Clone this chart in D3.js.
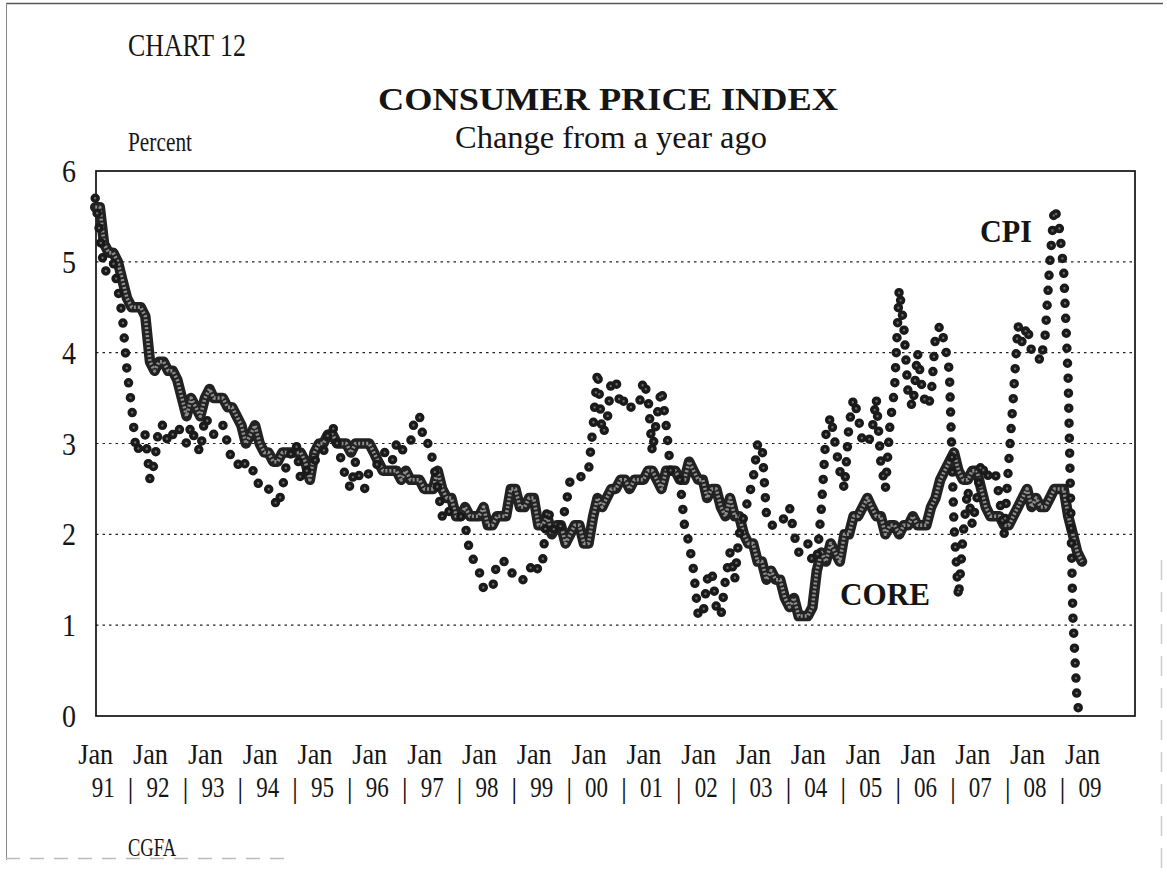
<!DOCTYPE html>
<html><head><meta charset="utf-8">
<script src="https://cdn.jsdelivr.net/npm/d3@7"></script>
<style>
html,body{margin:0;padding:0;background:#fff;}
svg{display:block;}
text{font-family:"Liberation Serif","DejaVu Serif",serif;fill:#151515;}
</style></head><body>
<svg id="c" width="1167" height="874"></svg>
<script>
// ---- data (percent change from a year ago, monthly Jan 1991 - Jan 2009) ----
const startYear = 1991;
const cpi = [
  5.7,5.3,4.9,4.9,5.0,4.7,4.4,3.8,3.4,2.9,3.0,3.1,   // 1991
  2.6,2.8,3.2,3.2,3.0,3.1,3.2,3.1,3.0,3.2,3.0,2.9,   // 1992
  3.3,3.2,3.1,3.2,3.2,3.0,2.8,2.8,2.7,2.8,2.7,2.7,   // 1993
  2.5,2.5,2.5,2.4,2.3,2.5,2.8,2.9,3.0,2.6,2.7,2.7,   // 1994
  2.8,2.9,2.9,3.1,3.2,3.0,2.8,2.6,2.5,2.8,2.6,2.5,   // 1995
  2.7,2.7,2.8,2.9,2.9,2.8,3.0,2.9,3.0,3.0,3.3,3.3,   // 1996
  3.0,3.0,2.8,2.5,2.2,2.3,2.2,2.2,2.2,2.1,1.8,1.7,   // 1997
  1.6,1.4,1.4,1.4,1.7,1.7,1.7,1.6,1.5,1.5,1.5,1.6,   // 1998
  1.7,1.6,1.7,2.3,2.1,2.0,2.1,2.3,2.6,2.6,2.6,2.7,   // 1999
  2.7,3.2,3.8,3.1,3.2,3.7,3.7,3.4,3.5,3.4,3.4,3.4,   // 2000
  3.7,3.5,2.9,3.3,3.6,3.2,2.7,2.7,2.6,2.1,1.9,1.6,   // 2001
  1.1,1.1,1.5,1.6,1.2,1.1,1.5,1.8,1.5,2.0,2.2,2.4,   // 2002
  2.6,3.0,3.0,2.2,2.1,2.1,2.1,2.2,2.3,2.0,1.8,1.9,   // 2003
  1.9,1.7,1.7,2.3,3.1,3.3,3.0,2.7,2.5,3.2,3.5,3.3,   // 2004
  3.0,3.0,3.1,3.5,2.8,2.5,3.2,3.6,4.7,4.3,3.5,3.4,   // 2005
  4.0,3.6,3.4,3.5,4.2,4.3,4.1,3.8,2.1,1.3,2.0,2.5,   // 2006
  2.1,2.4,2.8,2.6,2.7,2.7,2.4,2.0,2.8,3.5,4.3,4.1,   // 2007
  4.3,4.0,4.0,3.9,4.2,5.0,5.6,5.4,4.9,3.7,1.1,0.1,   // 2008
  0.05                                               // Jan 2009
];
const core = [
  5.6,5.6,5.2,5.1,5.1,5.0,4.8,4.6,4.5,4.5,4.5,4.4,   // 1991
  3.9,3.8,3.9,3.9,3.8,3.8,3.7,3.5,3.3,3.5,3.4,3.3,   // 1992
  3.5,3.6,3.5,3.5,3.5,3.4,3.4,3.3,3.2,3.0,3.1,3.2,   // 1993
  3.0,2.9,2.9,2.8,2.8,2.9,2.9,2.9,2.9,2.9,2.8,2.6,   // 1994
  2.9,3.0,3.0,3.1,3.1,3.0,3.0,3.0,2.9,3.0,3.0,3.0,   // 1995
  3.0,2.9,2.8,2.7,2.7,2.7,2.7,2.6,2.7,2.6,2.6,2.6,   // 1996
  2.5,2.5,2.5,2.7,2.5,2.4,2.4,2.2,2.2,2.3,2.2,2.2,   // 1997
  2.2,2.3,2.1,2.1,2.2,2.2,2.2,2.5,2.5,2.3,2.3,2.4,   // 1998
  2.4,2.1,2.1,2.2,2.0,2.1,2.1,1.9,2.0,2.1,2.1,1.9,   // 1999
  1.9,2.2,2.4,2.3,2.4,2.5,2.5,2.6,2.6,2.5,2.6,2.6,   // 2000
  2.6,2.7,2.7,2.6,2.5,2.7,2.7,2.7,2.6,2.6,2.8,2.7,   // 2001
  2.6,2.6,2.4,2.5,2.5,2.3,2.2,2.4,2.2,2.2,2.0,1.9,   // 2002
  1.9,1.7,1.7,1.5,1.6,1.5,1.5,1.3,1.2,1.3,1.1,1.1,   // 2003
  1.1,1.2,1.6,1.8,1.7,1.9,1.8,1.7,2.0,2.0,2.2,2.2,   // 2004
  2.3,2.4,2.3,2.2,2.2,2.0,2.1,2.1,2.0,2.1,2.1,2.2,   // 2005
  2.1,2.1,2.1,2.3,2.4,2.6,2.7,2.8,2.9,2.7,2.6,2.6,   // 2006
  2.7,2.7,2.5,2.3,2.2,2.2,2.2,2.1,2.1,2.2,2.3,2.4,   // 2007
  2.5,2.3,2.4,2.3,2.3,2.4,2.5,2.5,2.5,2.2,2.0,1.8,   // 2008
  1.7                                                // Jan 2009
];
const yTicks = [0,1,2,3,4,5,6];
const gridValues = [1,2,3,4,5];
const yearLabels = ["91","92","93","94","95","96","97","98","99","00","01","02","03","04","05","06","07","08","09"];

// ---- layout ----
const svg = d3.select("#c");
const L = 96, R = 1135, T = 171, B = 716;
const x = d3.scaleTime()
  .domain([new Date(1991,0,1), new Date(2009,11,20)])
  .range([95.2, R]);
const y = d3.scaleLinear().domain([0,6]).range([B, T]);
const dateOf = i => new Date(startYear, i, 1);

function label(sel, txt, px, py, size, opts={}) {
  const t = sel.append("text").attr("x",px).attr("y",py).attr("font-size",size).text(txt);
  if (opts.anchor) t.attr("text-anchor",opts.anchor);
  if (opts.bold) t.attr("font-weight","bold");
  if (opts.width) t.attr("textLength",opts.width).attr("lengthAdjust","spacingAndGlyphs");
  return t;
}

// outer page border (scan frame)
svg.append("line").attr("x1",6).attr("x2",1163).attr("y1",3.5).attr("y2",3.5)
  .attr("stroke","#555").attr("stroke-width",1.5);
svg.append("line").attr("x1",6.5).attr("x2",6.5).attr("y1",3).attr("y2",860)
  .attr("stroke","#888").attr("stroke-width",1);
svg.append("line").attr("x1",6).attr("x2",290).attr("y1",858.5).attr("y2",858.5)
  .attr("stroke","#bbb").attr("stroke-width",1.5).attr("stroke-dasharray","14,10");
svg.append("line").attr("x1",1161.5).attr("x2",1161.5).attr("y1",560).attr("y2",874)
  .attr("stroke","#ccc").attr("stroke-width",1.5).attr("stroke-dasharray","20,12");

// gridlines
svg.append("g").selectAll("line").data(gridValues).join("line")
  .attr("x1",L).attr("x2",R)
  .attr("y1",d=>y(d)).attr("y2",d=>y(d))
  .attr("stroke","#222").attr("stroke-width",1.2)
  .attr("stroke-dasharray","2.5,4");

// frame
svg.append("rect").attr("x",L).attr("y",T).attr("width",R-L).attr("height",B-T)
  .attr("fill","none").attr("stroke","#111").attr("stroke-width",1.7);

// y tick labels
svg.append("g").selectAll("text").data(yTicks).join("text")
  .attr("x",76).attr("y",d=>y(d)+11)
  .attr("text-anchor","end").attr("font-size",31)
  .attr("textLength",14).attr("lengthAdjust","spacingAndGlyphs")
  .text(d=>d);

// x labels
const janDates = yearLabels.map((s,i)=>new Date(startYear+i,0,1));
svg.append("g").selectAll("text").data(janDates).join("text")
  .attr("x",d=>x(d)-17).attr("y",764)
  .attr("font-size",30)
  .attr("textLength",35).attr("lengthAdjust","spacingAndGlyphs")
  .text("Jan");
svg.append("g").selectAll("text").data(janDates).join("text")
  .attr("x",d=>x(d)-3.5).attr("y",797)
  .attr("font-size",30)
  .attr("textLength",23).attr("lengthAdjust","spacingAndGlyphs")
  .text((d,i)=>yearLabels[i]);
svg.append("g").selectAll("text").data(janDates.slice(0,-1)).join("text")
  .attr("x",(d,i)=>(x(d)+x(janDates[i+1]))/2+8).attr("y",798)
  .attr("text-anchor","middle").attr("font-size",30)
  .text("|");

// series
const lineGen = d3.line().x((d,i)=>x(dateOf(i))).y(d=>y(d));

const coreG = svg.append("g");
coreG.append("path").datum(core).attr("d",lineGen)
  .attr("fill","none").attr("stroke","#222").attr("stroke-width",10.5)
  .attr("stroke-linejoin","round").attr("stroke-linecap","round");
coreG.append("path").datum(core).attr("d",lineGen)
  .attr("fill","none").attr("stroke","#8e8e8e").attr("stroke-width",3.5)
  .attr("stroke-linejoin","round")
  .attr("stroke-dasharray","2,2");

const cpiG = svg.append("g");
cpiG.append("path").datum(cpi).attr("d",lineGen)
  .attr("fill","none").attr("stroke","#1a1a1a").attr("stroke-width",9.5)
  .attr("stroke-linecap","round").attr("stroke-linejoin","round")
  .attr("stroke-dasharray","0,15");
cpiG.append("path").datum(cpi).attr("d",lineGen)
  .attr("fill","none").attr("stroke","#6a6a6a").attr("stroke-width",2.4)
  .attr("stroke-linecap","round").attr("stroke-linejoin","round")
  .attr("stroke-dasharray","0,15");

// series labels
label(svg, "CPI", 980, 242, 31, {bold:true, width:52});
label(svg, "CORE", 840, 605, 32, {bold:true, width:90});

// titles
label(svg, "CHART 12", 128, 56, 31, {width:118});
label(svg, "CONSUMER PRICE INDEX", 378, 110, 32, {bold:true, width:460});
label(svg, "Percent", 128, 151, 27, {width:64});
label(svg, "Change from a year ago", 455, 148, 31, {width:312});
label(svg, "CGFA", 128, 856, 26, {width:48});
</script>
</body></html>
